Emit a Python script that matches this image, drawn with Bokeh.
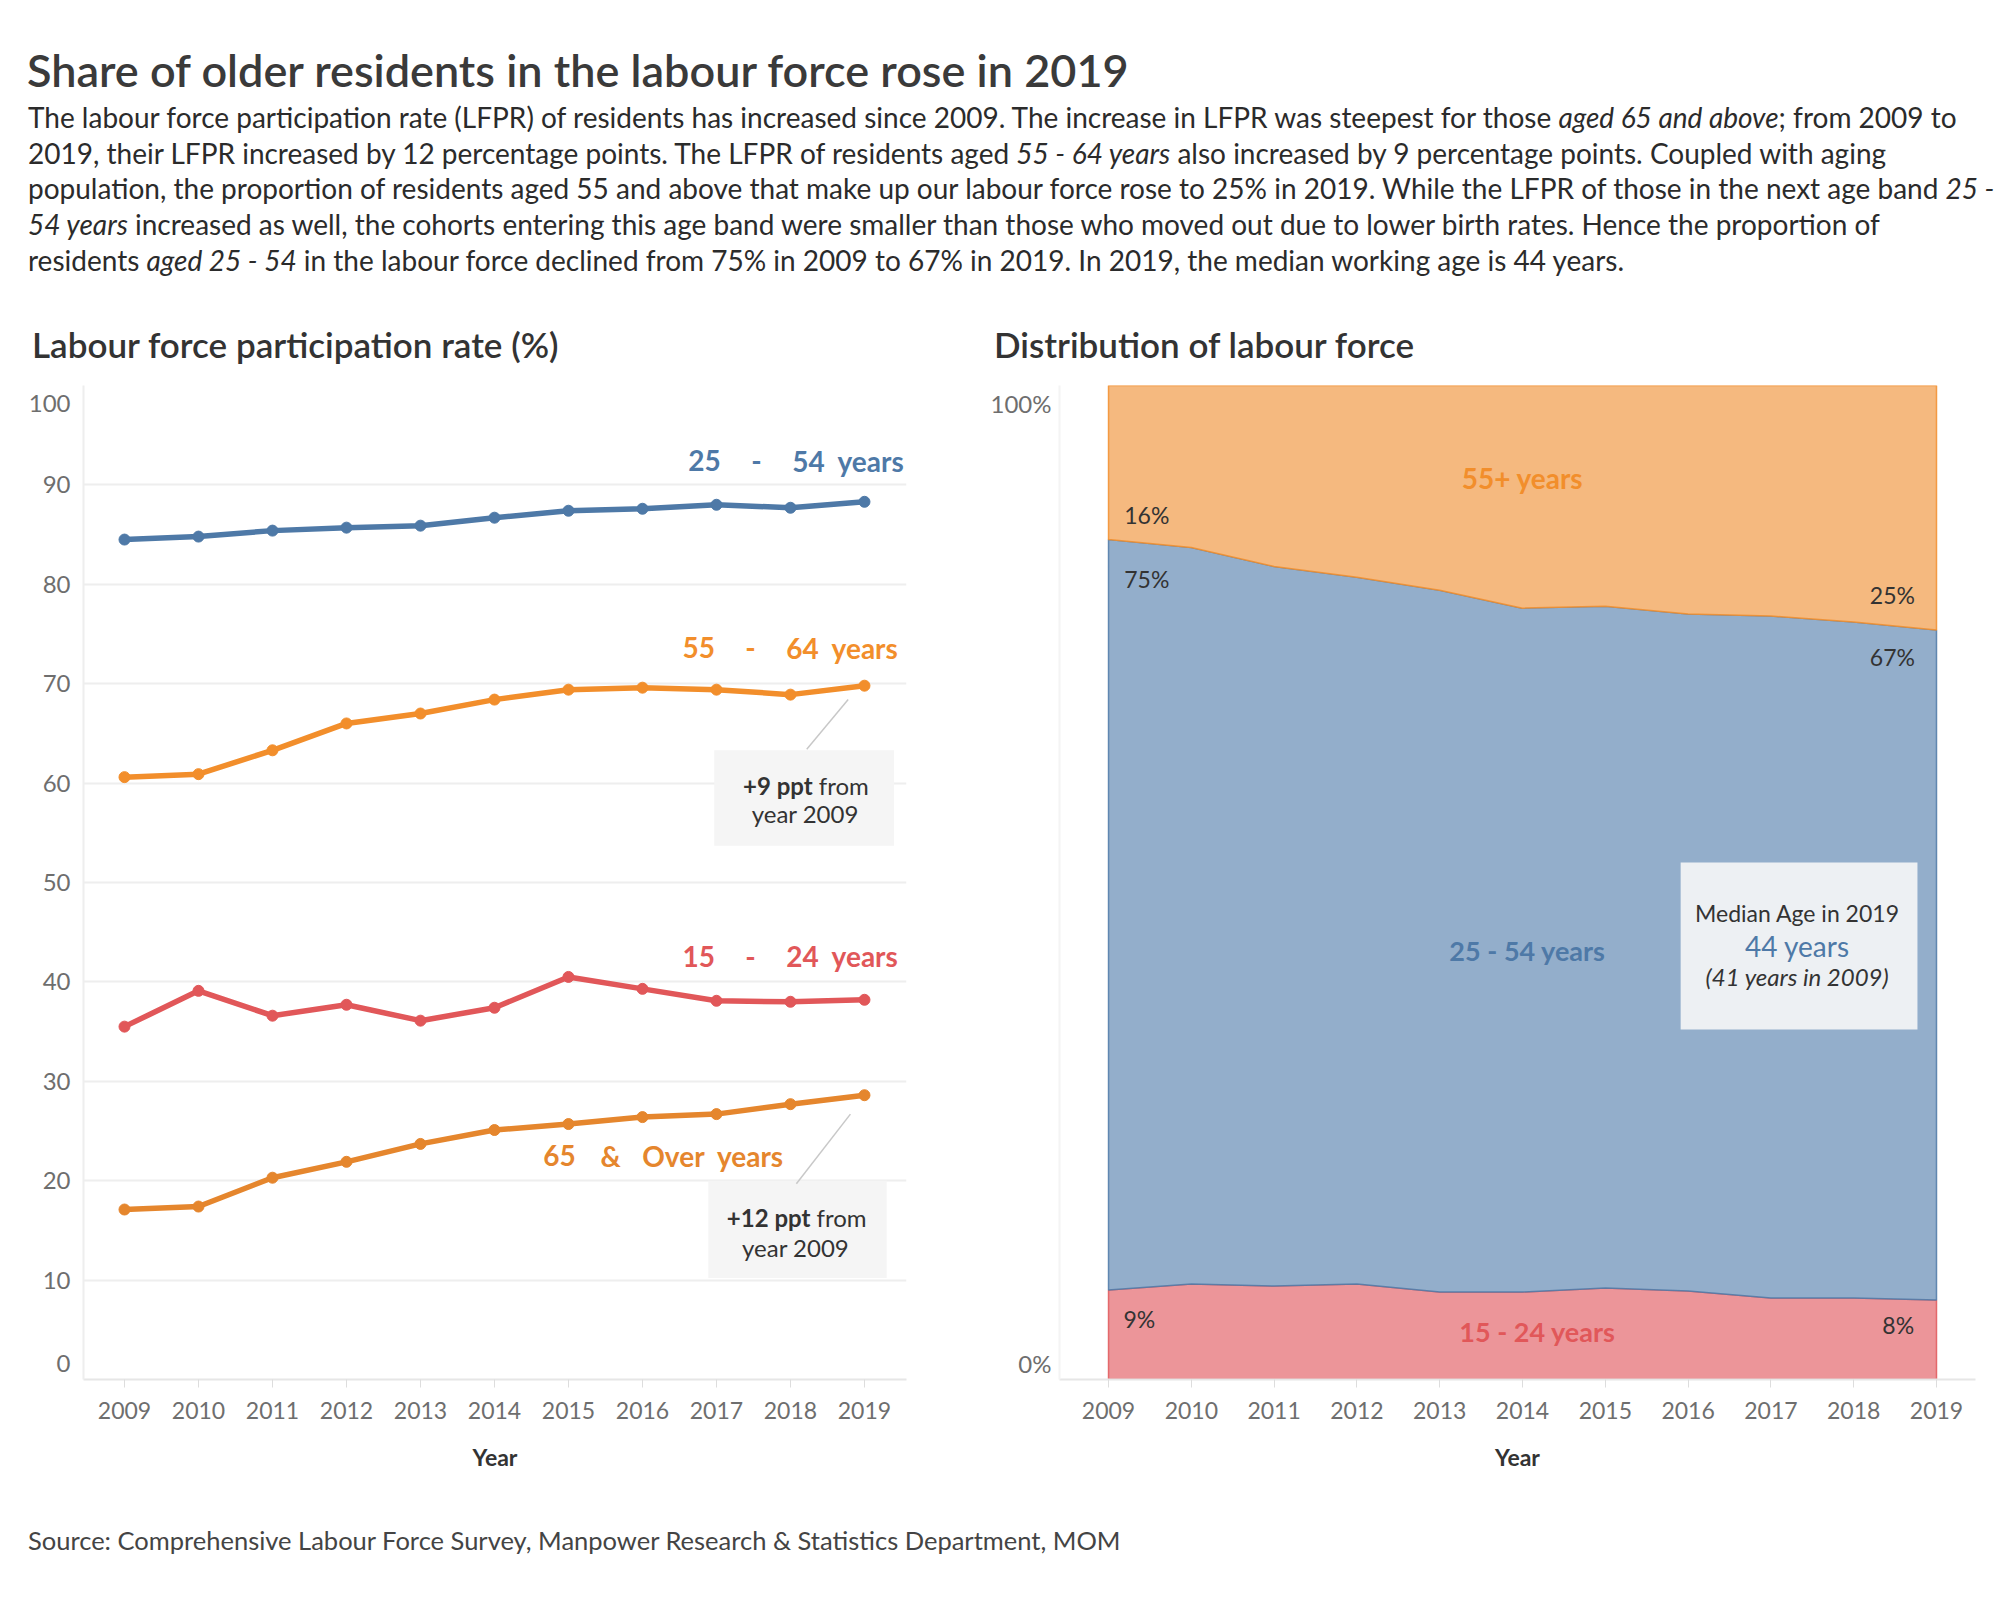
from bokeh.plotting import figure
from bokeh.models import Range1d, FixedTicker, Label, BoxAnnotation, Div
from bokeh.layouts import column, row
from bokeh.embed import file_html
from bokeh.resources import INLINE

# ---------------- data ----------------
years = [2009, 2010, 2011, 2012, 2013, 2014, 2015, 2016, 2017, 2018, 2019]
year_labels = ["2009", "2010", "2011", "2012", "2013", "2014", "2015", "2016", "2017", "2018", "2019"]

# Labour force participation rate (%)
lfpr_25_54 = [84.5, 84.8, 85.4, 85.7, 85.9, 86.7, 87.4, 87.6, 88.0, 87.7, 88.3]
lfpr_55_64 = [60.6, 60.9, 63.3, 66.0, 67.0, 68.4, 69.4, 69.6, 69.4, 68.9, 69.8]
lfpr_15_24 = [35.5, 39.1, 36.6, 37.7, 36.1, 37.4, 40.5, 39.3, 38.1, 38.0, 38.2]
lfpr_65_over = [17.1, 17.4, 20.3, 21.9, 23.7, 25.1, 25.7, 26.4, 26.7, 27.7, 28.6]

# Distribution of labour force (%)
share_15_24 = [9.0, 9.6, 9.4, 9.6, 8.8, 8.8, 9.2, 8.9, 8.2, 8.2, 8.0]
share_25_54 = [75.5, 74.1, 72.4, 71.1, 70.6, 68.8, 68.6, 68.1, 68.6, 68.0, 67.4]
share_55_over = [15.5, 16.3, 18.2, 19.3, 20.6, 22.4, 22.2, 23.0, 23.2, 23.8, 24.6]

# y tick labels (the end labels sit just inside the plot edges, as in the original)
lfpr_ticks = [1.6, 10, 20, 30, 40, 50, 60, 70, 80, 90, 98.2]
lfpr_tick_labels = ["0", "10", "20", "30", "40", "50", "60", "70", "80", "90", "100"]
lfpr_grid = [10, 20, 30, 40, 50, 60, 70, 80, 90, 100]
share_ticks = [1.6, 98.2]
share_tick_labels = ["0%", "100%"]

FONT = "Lato"
BLUE = "#4e79a7"
ORANGE = "#f28e2b"
ORANGE2 = "#e5862d"
RED = "#e15759"
DARK = "#333333"
GREY = "#6e6e6e"

# ---------------- header ----------------
title = "Share of older residents in the labour force rose in 2019"
body_lines = [
    "The labour force participation rate (LFPR) of residents has increased since 2009. The increase in LFPR was steepest for those <i>aged 65 and above</i>; from 2009 to",
    "2019, their LFPR increased by 12 percentage points. The LFPR of residents aged <i>55 - 64 years</i> also increased by 9 percentage points. Coupled with aging",
    "population, the proportion of residents aged 55 and above that make up our labour force rose to 25% in 2019. While the LFPR of those in the next age band <i>25 -</i>",
    "<i>54 years</i> increased as well, the cohorts entering this age band were smaller than those who moved out due to lower birth rates. Hence the proportion of",
    "residents <i>aged 25 - 54</i> in the labour force declined from 75% in 2009 to 67% in 2019. In 2019, the median working age is 44 years.",
]
sub_left = "Labour force participation rate (%)"
sub_right = "Distribution of labour force"
source_text = "Source: Comprehensive Labour Force Survey, Manpower Research &amp; Statistics Department, MOM"

header_html = f"""
<div style="position:relative;width:1984px;height:370px;font-family:'{FONT}';color:{DARK};margin:0;padding:0;">
  <div style="position:absolute;left:19px;top:36px;font-size:45px;line-height:52px;font-weight:600;white-space:nowrap;color:#3a3a3a;">{title}</div>
  <div style="position:absolute;left:20px;top:92px;font-size:28px;line-height:35.7px;white-space:nowrap;color:#2b2b2b;">{'<br>'.join(body_lines)}</div>
  <div style="position:absolute;left:24px;top:314px;font-size:35px;line-height:44px;font-weight:600;white-space:nowrap;color:#333;">{sub_left}</div>
  <div style="position:absolute;left:986px;top:314px;font-size:35px;line-height:44px;font-weight:600;white-space:nowrap;color:#333;">{sub_right}</div>
</div>
"""
header = Div(text=header_html, width=1984, height=370, margin=(0, 0, 0, 0))

footer_html = f"""
<div style="position:relative;width:1984px;height:100px;font-family:'{FONT}';color:#444;">
  <div style="position:absolute;left:20px;top:45px;font-size:25.5px;line-height:30px;white-space:nowrap;">{source_text}</div>
</div>
"""
footer = Div(text=footer_html, width=1984, height=100, margin=(0, 0, 0, 0))


def style_x_axis(p):
    ax = p.xaxis[0]
    ax.ticker = FixedTicker(ticks=years)
    ax.major_label_overrides = {y: l for y, l in zip(years, year_labels)}
    ax.axis_line_color = "#e6e6e6"
    ax.axis_line_width = 2
    ax.major_tick_line_color = "#dddddd"
    ax.major_tick_out = 8
    ax.major_tick_in = 0
    ax.minor_tick_line_color = None
    ax.major_label_standoff = 14
    ax.major_label_text_font = FONT
    ax.major_label_text_font_size = "23px"
    ax.major_label_text_color = GREY
    ax.axis_label = "Year"
    ax.axis_label_text_font = FONT
    ax.axis_label_text_font_style = "bold"
    ax.axis_label_text_font_size = "23px"
    ax.axis_label_text_color = DARK
    ax.axis_label_standoff = 21


def style_y_axis(p, ticks, labels, standoff):
    ya = p.yaxis[0]
    ya.ticker = FixedTicker(ticks=ticks)
    ya.major_label_overrides = {t: l for t, l in zip(ticks, labels)}
    ya.axis_line_color = "#eeeeee"
    ya.axis_line_width = 2
    ya.major_tick_line_color = None
    ya.major_tick_out = 0
    ya.major_tick_in = 0
    ya.minor_tick_line_color = None
    ya.major_label_standoff = standoff
    ya.major_label_text_font = FONT
    ya.major_label_text_font_size = "24px"
    ya.major_label_text_color = GREY


def lab(p, x, y, text, color=DARK, size="23px", style="normal", align="left", baseline="middle"):
    p.add_layout(Label(x=x, y=y, text=text, text_color=color, text_font=FONT,
                       text_font_size=size, text_font_style=style,
                       text_align=align, text_baseline=baseline))


# ---------------- left chart ----------------
p1 = figure(width=952, height=1102, x_range=Range1d(2008.446, 2019.568), y_range=Range1d(0, 100),
            output_backend="svg", toolbar_location=None,
            min_border_left=75, min_border_right=54, min_border_top=7, min_border_bottom=101)
p1.outline_line_color = None
p1.xgrid.grid_line_color = None
p1.ygrid.ticker = FixedTicker(ticks=lfpr_grid)
p1.ygrid.grid_line_color = "#eeeeee"
p1.ygrid.grid_line_width = 2
style_x_axis(p1)
style_y_axis(p1, lfpr_ticks, lfpr_tick_labels, 13)

# annotation boxes (behind everything)
p1.add_layout(BoxAnnotation(left=2016.97, right=2019.40, bottom=53.7, top=63.3,
                            fill_color="#f5f5f5", fill_alpha=1, line_color=None, level="underlay"))
p1.add_layout(BoxAnnotation(left=2016.89, right=2019.30, bottom=10.2, top=20.0,
                            fill_color="#f5f5f5", fill_alpha=1, line_color=None, level="underlay"))
p1.segment(x0=[2018.78, 2018.81], y0=[68.4, 26.7], x1=[2018.22, 2018.08], y1=[63.4, 19.7],
           line_color="#c8c8c8", line_width=1.5)

for vals, col in [(lfpr_25_54, BLUE), (lfpr_55_64, ORANGE), (lfpr_15_24, RED), (lfpr_65_over, ORANGE2)]:
    p1.line(years, vals, line_color=col, line_width=5.5)
    p1.scatter(years, vals, size=11, fill_color=col, line_color=col)

# series labels
def series_label(p, y, a, a_x, mid, mid_x, b, b_x, color):
    lab(p, a_x, y, a, color, "28px", "bold", "left")
    lab(p, mid_x, y, mid, color, "28px", "bold", "center")
    lab(p, b_x, y, b, color, "28px", "bold", "right")

series_label(p1, 92.45, "25", 2016.62, "-", 2017.54, "54\u00a0 years", 2019.54, BLUE)
series_label(p1, 73.6, "55", 2016.54, "-", 2017.46, "64\u00a0 years", 2019.46, ORANGE)
series_label(p1, 42.6, "15", 2016.54, "-", 2017.46, "24\u00a0 years", 2019.46, RED)
series_label(p1, 22.5, "65", 2014.66, "&", 2015.57, "Over\u00a0 years", 2017.91, ORANGE2)

lab(p1, 2018.30, 59.8, "+9 ppt", DARK, "24px", "bold", "right")
lab(p1, 2018.30, 59.8, "\u00a0from", DARK, "24px", "normal", "left")
lab(p1, 2018.20, 56.9, "year 2009", DARK, "24px", "normal", "center")
lab(p1, 2018.27, 16.3, "+12 ppt", DARK, "24px", "bold", "right")
lab(p1, 2018.27, 16.3, "\u00a0from", DARK, "24px", "normal", "left")
lab(p1, 2018.07, 13.3, "year 2009", DARK, "24px", "normal", "center")

# ---------------- right chart ----------------
p2 = figure(width=1032, height=1102, x_range=Range1d(2008.408, 2019.471), y_range=Range1d(0, 100),
            output_backend="svg", toolbar_location=None,
            min_border_left=99, min_border_right=17, min_border_top=7, min_border_bottom=101)
p2.outline_line_color = None
p2.xgrid.grid_line_color = None
p2.ygrid.ticker = FixedTicker(ticks=[100])
p2.ygrid.grid_line_color = "#eeeeee"
p2.ygrid.grid_line_width = 2
style_x_axis(p2)
style_y_axis(p2, share_ticks, share_tick_labels, 8)
p2.yaxis[0].axis_line_color = "#f4f4f4"

bottoms = [0.0] * len(years)
bands = [(share_15_24, "#ec9599", RED), (share_25_54, "#93aecb", BLUE), (share_55_over, "#f5b97f", ORANGE)]
for shares, fill, line in bands:
    tops = [b + s for b, s in zip(bottoms, shares)]
    p2.patch(years + years[::-1], tops + bottoms[::-1], fill_color=fill, fill_alpha=1,
             line_color=line, line_width=1.5, line_alpha=0.85)
    bottoms = tops

lab(p2, 2014.0, 90.7, "55+ years", ORANGE, "28px", "bold", "center")
lab(p2, 2014.06, 43.2, "25 - 54 years", BLUE, "27px", "bold", "center")
lab(p2, 2014.18, 4.8, "15 - 24 years", RED, "27px", "bold", "center")
lab(p2, 2009.19, 87.0, "16%")
lab(p2, 2009.19, 80.55, "75%")
lab(p2, 2009.18, 6.1, "9%")
lab(p2, 2018.74, 78.9, "25%", align="right")
lab(p2, 2018.74, 72.7, "67%", align="right")
lab(p2, 2018.73, 5.5, "8%", align="right")

p2.add_layout(BoxAnnotation(left=2015.91, right=2018.77, bottom=35.2, top=52.0,
                            fill_color="#edf0f3", fill_alpha=1, line_color=None))
lab(p2, 2017.32, 46.9, "Median Age in 2019", DARK, "23px", "normal", "center")
lab(p2, 2017.32, 43.6, "44 years", BLUE, "28px", "normal", "center")
lab(p2, 2017.32, 40.55, "(41 years in 2009)", DARK, "24px", "italic", "center")

layout = column(header, row(p1, p2), footer, margin=(8, 8, 8, 8))
open("out.html", "w").write(file_html(layout, INLINE))
